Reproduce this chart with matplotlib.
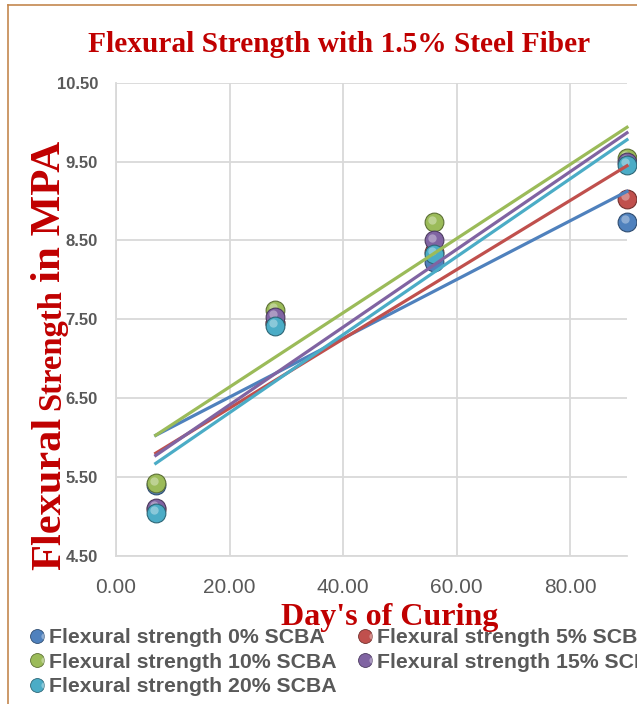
import numpy as np
import matplotlib
matplotlib.use("Agg")
import matplotlib.pyplot as plt
from matplotlib.lines import Line2D
from matplotlib.transforms import offset_copy
from matplotlib.legend_handler import HandlerTuple
from matplotlib.colors import to_rgb

# data
days = [7, 28, 56, 90]
labels = ["Flexural strength 0% SCBA", "Flexural strength 5% SCBA",
          "Flexural strength 10% SCBA", "Flexural strength 15% SCBA",
          "Flexural strength 20% SCBA"]
scba_0 = [5.40, 7.45, 8.23, 8.74]
scba_5 = [5.10, 7.45, 8.35, 9.03]
scba_10 = [5.42, 7.62, 8.73, 9.55]
scba_15 = [5.11, 7.53, 8.50, 9.50]
scba_20 = [5.05, 7.42, 8.33, 9.46]
colors = ["#4F81BD", "#C0504D", "#9BBB59", "#8064A2", "#4BACC6"]
x_ticks = [0, 20, 40, 60, 80]
y_ticks = [4.5, 5.5, 6.5, 7.5, 8.5, 9.5, 10.5]

W, H = 637, 704
RED = "#C00000"
GREY = "#595959"
GRID = "#D9D9D9"

fig = plt.figure(figsize=(W / 100, H / 100), dpi=100)
ax = fig.add_axes([116 / W, 1 - 556 / H, (627 - 116) / W, (556 - 82.7) / H])


def darker(c, f=0.6):
    r, g, b = to_rgb(c)
    return (r * f, g * f, b * f)


series = [scba_0, scba_5, scba_10, scba_15, scba_20]
hl_trans = offset_copy(ax.transData, fig=fig, x=-1.5, y=2.0, units="points")
handles = []
for vals, col, lab in zip(series, colors, labels):
    ax.plot(days, vals, "o", ms=13.5, mfc=col, mec=darker(col), mew=0.8,
            ls="none", clip_on=False, zorder=3)
    ax.plot(days, vals, "o", ms=6, mfc="white", mec="none", alpha=0.35,
            ls="none", clip_on=False, zorder=3, transform=hl_trans)
    # linear trend line, as in the original
    k, b = np.polyfit(days, vals, 1)
    xs = np.array([days[0], days[-1]])
    ax.plot(xs, k * xs + b, color=col, lw=2.3, zorder=4, clip_on=False)
    leg_base = Line2D([], [], marker="o", ms=10, mfc=col, mec=darker(col), mew=0.6, ls="none")
    leg_hl = Line2D([], [], marker="o", ms=4.5, mfc="white", mec="none", alpha=0.35, ls="none")
    handles.append((leg_base, leg_hl))

ax.set_xlim(0, 90)
ax.set_ylim(4.5, 10.5)
ax.set_xticks(x_ticks)
ax.set_yticks(y_ticks)
ax.set_xticklabels([f"{v:.2f}" for v in x_ticks], fontsize=15, color=GREY,
                   family="Liberation Sans")
ax.set_yticklabels([f"{v:.2f}" for v in y_ticks], fontsize=12, color=GREY,
                   fontweight="bold", family="Liberation Sans")
ax.tick_params(axis="x", length=0, pad=16)
ax.tick_params(axis="y", length=0, pad=13)
ax.grid(True, color=GRID, lw=1.3)
ax.set_axisbelow(True)
for s in ["top", "right"]:
    ax.spines[s].set_visible(False)
for s in ["left", "bottom"]:
    ax.spines[s].set_color(GRID)
    ax.spines[s].set_linewidth(1.3)

# titles
fig.text(339 / W, 1 - 44 / H, "Flexural Strength with 1.5% Steel Fiber",
         ha="center", va="center", fontsize=21.2, fontweight="bold",
         color=RED, family="Liberation Serif")
fig.text(390 / W, 1 - 617 / H, "Day's of Curing", ha="center", va="center",
         fontsize=23, fontweight="bold", color=RED, family="Liberation Serif")

# y label with mixed sizes
fig.canvas.draw()
rend = fig.canvas.get_renderer()
ypix = H - 570
for word, size in [("Flexural", 30.5), ("Strength", 23.5), ("in MPA", 31)]:
    t = fig.text(60 / W, ypix / H, word, rotation=90, rotation_mode="anchor",
                 ha="left", va="baseline", fontsize=size, fontweight="bold",
                 color=RED, family="Liberation Serif")
    bb = t.get_window_extent(rend)
    ypix = bb.y1 + 7

# legend, row-major order through column-major filling
order = [0, 2, 4, 1, 3]
fig.legend([handles[i] for i in order], [labels[i] for i in order],
           handler_map={tuple: HandlerTuple(ndivide=None)},
           loc="upper left", bbox_to_anchor=(33 / W, 1 - 628 / H), ncol=2,
           frameon=False, borderpad=0, borderaxespad=0, handlelength=0.7,
           handletextpad=0.05, columnspacing=1.15, labelspacing=0.27,
           prop={"family": "Liberation Sans", "weight": "bold", "size": 15.3},
           labelcolor=GREY)

# chart area border
fig.add_artist(Line2D([8 / W, 8 / W], [0, 1 - 5 / H], color="#C4874F", lw=1.2))
fig.add_artist(Line2D([8 / W, 1], [1 - 5 / H, 1 - 5 / H], color="#C4874F", lw=1.2))

fig.savefig("out.png", dpi=100)
